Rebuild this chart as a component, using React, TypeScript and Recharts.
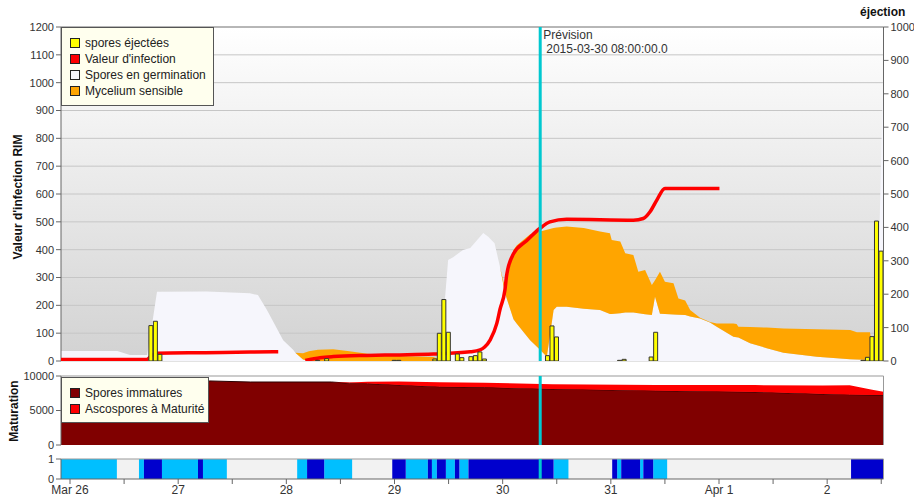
import { ComposedChart, Area, Line, Bar, XAxis, YAxis, CartesianGrid, ReferenceLine } from 'recharts'

// time axis: hours since 2015-03-26 00:00
const X_DOMAIN: [number, number] = [-2, 180.5]
const PREVISION_HOUR = 104.33 // 2015-03-30 08:00

// spores en germination and top of mycelium sensible (left axis, RIM)
const areaHours = [-2, 10.5, 13.3, 17.1, 18, 19.3, 30.4, 39.9, 41.7, 43.7, 47.3, 49.5, 50, 51.7, 53, 55, 58.4, 62, 66, 73, 80.6, 82.1, 83.9, 85, 87.2, 88.8, 91.7, 92.8, 94.2, 95.4, 96.5, 98.4, 99.1, 102.1, 104.3, 105.8, 107.3, 108, 110.2, 114, 117.6, 119.8, 120.2, 122.1, 123.2, 125, 126.1, 127.6, 129.1, 129.8, 130.9, 132, 133.9, 135, 136.5, 137.6, 139.8, 142, 143.5, 147.2, 147.9, 148.3, 150.9, 154.6, 158.3, 165.7, 173.1, 174.6, 177.5, 178.2, 179.3, 180.5]
const germination = [36, 36, 22, 22, 110, 249, 250, 243, 237, 183, 75, 40, 30, 5, 0, 0, 0, 0, 0, 0, 0, 5, 363, 373, 399, 406, 460, 446, 423, 339, 244, 150, 135, 75, 40, 15, 183, 195, 195, 188, 183, 169, 169, 172, 174, 174, 172, 168, 165, 231, 170, 169, 167, 166, 165, 160, 153, 138, 123, 87, 85, 84, 64, 46, 30, 15, 6, 5, 4, 20, 250, 1100]
const myceliumTop = [36, 36, 22, 22, 110, 249, 250, 243, 237, 183, 75, 40, 30, 28, 35, 40, 42, 35, 26, 18, 14, 5, 363, 373, 399, 406, 460, 446, 423, 339, 262, 399, 415, 455, 465, 472, 478, 480, 483, 478, 465, 459, 435, 429, 387, 381, 321, 327, 273, 290, 321, 285, 279, 225, 217, 183, 155, 140, 135, 135, 133, 123, 122, 120, 117, 114, 111, 103, 103, 20, 250, 1100]

// valeur d'infection (null = break in the line)
const infectionHours = [-2, 17, 18, 19.3, 30, 40, 46.2, 49, 52.2, 55.5, 58.4, 65.9, 73.2, 80.6, 88.8, 91, 92, 93.2, 94.7, 95.4, 96.5, 96.9, 98.4, 101.3, 104.3, 106.5, 110.2, 125, 127.2, 128.7, 130.2, 132, 144.1]
const infection = [5, 5, 18, 28, 30, 32, 33, null, 2, 12, 16, 20, 22, 25, 33, 40, 50, 75, 135, 185, 255, 310, 385, 432, 477, 500, 509, 506, 512, 536, 578, 620, 620]

// spores éjectées, hourly (right axis)
const sporeHours = [18, 19, 20, 55, 57, 72, 73, 81, 82, 83, 84, 86, 87, 89, 90, 91, 92, 106, 107, 108, 122, 123, 129, 130, 176, 177, 178, 179, 180]
const sporeCounts = [106, 119, 20, 2, 7, 2, 2, 6, 83, 184, 86, 21, 10, 13, 16, 27, 6, 16, 105, 72, 2, 5, 12, 86, 2, 11, 73, 419, 329]

// maturation
const maturationHours = [-2, 31, 40, 58, 62, 66, 73, 82, 92, 107, 130, 152, 167, 173, 178, 180.5]
const sporesImmatures = [9350, 9280, 9130, 9130, 8950, 8900, 8700, 8450, 8360, 8115, 7870, 7680, 7390, 7300, 7250, 7250]
const ascosporesMatures = [0, 0, 0, 0, 100, 250, 500, 650, 650, 700, 830, 1000, 1250, 1350, 750, 450]

// leaf wetness strip: L = light blue, D = dark blue, W = dry
const wetHours = [-2, 10.4, 15.3, 16.4, 20.4, 28.4, 29.5, 34.8, 50.4, 52.6, 56.4, 62.6, 71.5, 74.5, 79.4, 80.3, 81.4, 83.4, 85.4, 86.4, 88.4, 107.3, 110.6, 120.3, 121.4, 122.3, 126.5, 127.2, 129.4, 132.5, 173.3, 180.5]
const wetState = ['L', 'W', 'L', 'D', 'L', 'D', 'L', 'W', 'L', 'D', 'L', 'W', 'D', 'L', 'D', 'L', 'D', 'L', 'D', 'L', 'D', 'L', 'W', 'D', 'L', 'D', 'L', 'D', 'L', 'W', 'D', 'D']

const rimTicks = [0, 100, 200, 300, 400, 500, 600, 700, 800, 900, 1000, 1100, 1200]
const ejectionTicks = [0, 100, 200, 300, 400, 500, 600, 700, 800, 900, 1000]
const maturationTicks = [0, 5000, 10000]
const dayTicks = [0, 12, 24, 36, 48, 60, 72, 84, 96, 108, 120, 132, 144, 156, 168, 180]
const dayLabels: Record<number, string> = { 0: 'Mar 26', 24: '27', 48: '28', 72: '29', 96: '30', 120: '31', 144: 'Apr 1', 168: '2' }

const mainLegend = [
  { label: 'spores éjectées', color: '#ffff00' },
  { label: "Valeur d'infection", color: '#ff0000' },
  { label: 'Spores en germination', color: '#f6f6fc' },
  { label: 'Mycelium sensible', color: '#ffa500' },
]
const maturationLegend = [
  { label: 'Spores immatures', color: '#800000' },
  { label: 'Ascospores à Maturité', color: '#ff0000' },
]

const areaRows = areaHours.map((hour, i) => ({
  hour,
  germination: germination[i],
  mycelium: [germination[i], myceliumTop[i]],
}))
const infectionRows = infectionHours.map((hour, i) => ({ hour, infection: infection[i] }))
const sporeRows = sporeHours.map((hour, i) => ({ hour, spores: sporeCounts[i] }))
const maturationRows = maturationHours.map((hour, i) => ({
  hour,
  immatures: sporesImmatures[i],
  matures: ascosporesMatures[i],
}))
const wetRows = wetHours.map((hour, i) => ({
  hour,
  light: wetState[i] === 'L' ? 1 : 0,
  dark: wetState[i] === 'D' ? 1 : 0,
  dry: wetState[i] === 'W' ? 1 : 0,
}))

const axisColor = '#666'
const tickStyle = { fontSize: 11, fill: '#333' }
// all three layers of the main panel share the same plot box: x 61..883.5, y 27..361
const MAIN_H = 370
const mainMargin = { top: 27, right: 30.5, bottom: 9, left: 11 }
const lineMargin = { top: 27, right: 30.5, bottom: 9, left: 61 }
const barMargin = { top: 27, right: 0.5, bottom: 9, left: 61 }
const CYAN = '#00c8d0'

function PrevisionLabel(props: any) {
  const vb = props.viewBox || {}
  const x = (vb.x ?? 0) + 3
  const y = vb.y ?? 27
  return (
    <text fontSize={12} fill="#333">
      <tspan x={x} y={y + 12}>Prévision</tspan>
      <tspan x={x + 3} y={y + 26}>2015-03-30 08:00:00.0</tspan>
    </text>
  )
}

function LegendBox({ items, left, top, width, height }: { items: { label: string; color: string }[]; left: number; top: number; width: number; height: number }) {
  return (
    <div
      style={{
        position: 'absolute', left, top, width, height, boxSizing: 'border-box',
        background: '#ffffee', border: '1px solid #555', padding: '7px 0 0 8px',
        fontSize: 12, color: '#222', lineHeight: '16px',
      }}
    >
      {items.map((it) => (
        <div key={it.label} style={{ display: 'flex', alignItems: 'center', height: 16, whiteSpace: 'nowrap' }}>
          <span style={{ display: 'inline-block', width: 8, height: 8, background: it.color, border: '1px solid #222', marginRight: 5 }} />
          {it.label}
        </div>
      ))}
    </div>
  )
}

export default function App() {
  return (
    <div style={{ position: 'absolute', left: 0, top: 0, width: 914, height: 497, overflow: 'hidden', background: '#fff', fontFamily: '"Liberation Sans", Arial, sans-serif' }}>
      {/* main panel: background, areas, left axis */}
      <div style={{ position: 'absolute', left: 0, top: 0 }}>
        <ComposedChart width={914} height={MAIN_H} data={areaRows} margin={mainMargin}>
          <defs>
            <linearGradient id="rimBg" x1="0" y1="0" x2="0" y2="1">
              <stop offset="0%" stopColor="#ffffff" />
              <stop offset="100%" stopColor="#d2d2d2" />
            </linearGradient>
          </defs>
          <CartesianGrid vertical={false} fill="url(#rimBg)" stroke="#c6c6c6" />
          <XAxis type="number" dataKey="hour" domain={X_DOMAIN} allowDataOverflow height={0} tick={false} tickLine={false} axisLine={{ stroke: axisColor }} />
          <YAxis domain={[0, 1200]} ticks={rimTicks} interval={0} width={50} tickSize={5} tick={tickStyle} axisLine={{ stroke: axisColor }} tickLine={{ stroke: axisColor }} allowDataOverflow />
          <ReferenceLine y={1200} stroke="#8a8a8a" />
          <Area dataKey="germination" type="linear" fill="#f6f6fc" fillOpacity={1} stroke="none" dot={false} activeDot={false} isAnimationActive={false} />
          <Area dataKey="mycelium" type="linear" fill="#ffa500" fillOpacity={1} stroke="none" dot={false} activeDot={false} isAnimationActive={false} />
        </ComposedChart>
      </div>
      {/* infection line */}
      <div style={{ position: 'absolute', left: 0, top: 0 }}>
        <ComposedChart width={914} height={MAIN_H} data={infectionRows} margin={lineMargin}>
          <XAxis type="number" dataKey="hour" domain={X_DOMAIN} allowDataOverflow hide />
          <YAxis domain={[0, 1200]} hide allowDataOverflow />
          <Line dataKey="infection" type="monotone" stroke="#ff0000" strokeWidth={3.5} dot={false} activeDot={false} isAnimationActive={false} />
        </ComposedChart>
      </div>
      {/* ejected spores on the right axis + prevision marker */}
      <div style={{ position: 'absolute', left: 0, top: 0 }}>
        <ComposedChart width={914} height={MAIN_H} data={sporeRows} margin={barMargin}>
          <XAxis type="number" dataKey="hour" domain={X_DOMAIN} allowDataOverflow hide />
          <YAxis yAxisId="right" orientation="right" domain={[0, 1000]} ticks={ejectionTicks} interval={0} width={30} tickSize={5} tick={tickStyle} axisLine={{ stroke: axisColor }} tickLine={{ stroke: axisColor }} allowDataOverflow />
          <Bar yAxisId="right" dataKey="spores" fill="#ffff00" stroke="#333" strokeWidth={1} barSize={4} isAnimationActive={false} />
          <ReferenceLine yAxisId="right" x={PREVISION_HOUR} stroke={CYAN} strokeWidth={3} label={<PrevisionLabel />} />
        </ComposedChart>
      </div>
      {/* maturation panel */}
      <div style={{ position: 'absolute', left: 0, top: 370 }}>
        <ComposedChart width={914} height={80} data={maturationRows} margin={{ top: 6, right: 0.5, bottom: 5, left: 11 }}>
          <XAxis type="number" dataKey="hour" domain={X_DOMAIN} allowDataOverflow height={0} tick={false} tickLine={false} axisLine={{ stroke: axisColor }} />
          <YAxis domain={[0, 10000]} ticks={maturationTicks} interval={0} width={50} tickSize={5} tick={tickStyle} axisLine={{ stroke: axisColor }} tickLine={{ stroke: axisColor }} />
          <YAxis yAxisId="right" orientation="right" domain={[0, 10000]} ticks={maturationTicks} width={30} tickSize={3} tickFormatter={() => ''} axisLine={{ stroke: '#999' }} tickLine={{ stroke: '#999' }} />
          <Area dataKey="immatures" stackId="m" type="linear" fill="#800000" fillOpacity={1} stroke="#2a0000" strokeWidth={1} dot={false} activeDot={false} isAnimationActive={false} />
          <Area dataKey="matures" stackId="m" type="linear" fill="#ff0000" fillOpacity={1} stroke="none" dot={false} activeDot={false} isAnimationActive={false} />
          <ReferenceLine y={10000} stroke="#999" />
          <ReferenceLine x={PREVISION_HOUR} stroke={CYAN} strokeWidth={3} />
        </ComposedChart>
      </div>
      {/* wetness strip + time axis */}
      <div style={{ position: 'absolute', left: 0, top: 452 }}>
        <ComposedChart width={914} height={45} data={wetRows} margin={{ top: 7, right: 0.5, bottom: 0, left: 11 }}>
          <XAxis
            type="number" dataKey="hour" domain={X_DOMAIN} allowDataOverflow height={18}
            ticks={dayTicks} interval={0} tickSize={5} tickMargin={1}
            tickFormatter={(h: number) => dayLabels[h] ?? ''}
            tick={{ fontSize: 12, fill: '#333' }} axisLine={{ stroke: axisColor }} tickLine={{ stroke: axisColor }}
          />
          <YAxis domain={[0, 1]} ticks={[0, 1]} interval={0} width={50} tickSize={5} tick={tickStyle} axisLine={{ stroke: axisColor }} tickLine={{ stroke: axisColor }} />
          <YAxis yAxisId="right" orientation="right" domain={[0, 1]} width={30} tick={false} tickLine={false} axisLine={{ stroke: '#999' }} />
          <Area dataKey="dry" type="stepAfter" fill="#f2f2f2" fillOpacity={1} stroke="none" dot={false} activeDot={false} isAnimationActive={false} />
          <Area dataKey="light" type="stepAfter" fill="#00bfff" fillOpacity={1} stroke="none" dot={false} activeDot={false} isAnimationActive={false} />
          <Area dataKey="dark" type="stepAfter" fill="#0000cd" fillOpacity={1} stroke="none" dot={false} activeDot={false} isAnimationActive={false} />
          <ReferenceLine y={1} stroke="#999" />
          <ReferenceLine x={PREVISION_HOUR} stroke={CYAN} strokeWidth={3} />
        </ComposedChart>
      </div>
      {/* axis titles */}
      <svg width={914} height={497} style={{ position: 'absolute', left: 0, top: 0, pointerEvents: 'none' }}>
        <text transform="translate(22,197) rotate(-90)" textAnchor="middle" fontSize={12} fontWeight="bold" fill="#111">Valeur d'infection RIM</text>
        <text transform="translate(18,411) rotate(-90)" textAnchor="middle" fontSize={12} fontWeight="bold" fill="#111">Maturation</text>
        <text x={860} y={16} fontSize={12} fontWeight="bold" fill="#111">éjection</text>
      </svg>
      <LegendBox items={mainLegend} left={61} top={27} width={153} height={79} />
      <LegendBox items={maturationLegend} left={61} top={377} width={148} height={46} />
    </div>
  )
}
